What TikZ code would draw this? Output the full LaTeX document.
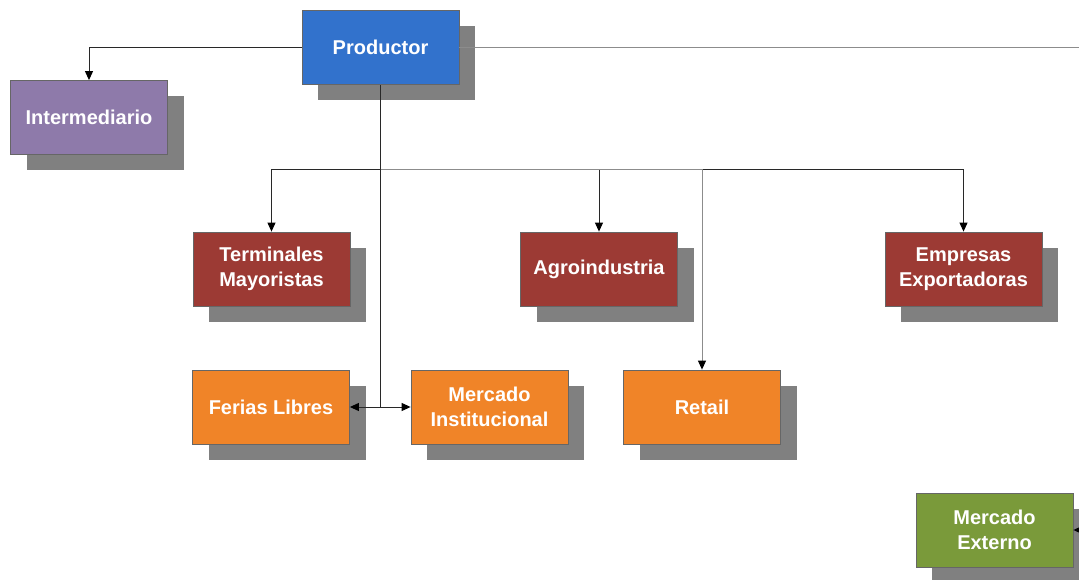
\documentclass[tikz,border=0pt]{standalone}
\usepackage{fontspec}
\setmainfont{Liberation Sans}
\usetikzlibrary{arrows.meta,shadows}
\definecolor{cblue}{RGB}{50,114,204}
\definecolor{cpurple}{RGB}{142,122,170}
\definecolor{cred}{RGB}{156,58,52}
\definecolor{corange}{RGB}{240,132,40}
\definecolor{cgreen}{RGB}{122,154,58}
\definecolor{cshadow}{RGB}{128,128,128}
\definecolor{cline}{RGB}{40,40,40}
\definecolor{cgrayline}{RGB}{140,140,140}
\tikzset{
  box/.style={draw=black!60, line width=0.8pt, minimum width=157pt, minimum height=74pt,
    align=center, text=white, font=\fontsize{20}{25}\selectfont\bfseries,
    general shadow={fill=cshadow, draw=none, shadow xshift=16pt, shadow yshift=-16pt}},
  conn/.style={draw=cline, line width=1pt},
  arr/.style={conn, -{Triangle[width=8pt,length=9pt,black]}},
  darr/.style={conn, {Triangle[width=8pt,length=9pt,black]}-{Triangle[width=8pt,length=9pt,black]}}
}
\begin{document}
\begin{tikzpicture}[x=1pt,y=-1pt]
\useasboundingbox (0,0) rectangle (1079,580);
\clip (0,0) rectangle (1079,580);
\node[box, fill=cblue] (prod) at (380.5,47.5) {Productor};
\node[box, fill=cpurple] (inter) at (89,117.5) {Intermediario};
\node[box, fill=cred] (term) at (271.5,269) {Terminales\\Mayoristas};
\node[box, fill=cred] (agro) at (599,269) {Agroindustria};
\node[box, fill=cred] (emp) at (963.5,269) {Empresas\\Exportadoras};
\node[box, fill=corange] (ferias) at (271,407) {Ferias Libres};
\node[box, fill=corange] (minst) at (489.5,407) {Mercado\\Institucional};
\node[box, fill=corange] (retail) at (702,407) {Retail};
\node[box, fill=cgreen] (mext) at (994.5,530) {Mercado\\Externo};
\coordinate (bus) at (380.5,170);
\coordinate (fork) at (380.5,407);
\coordinate (rightend) at (1090,47.5);
\coordinate (extin) at (1090,530);
\draw[arr] (prod.west) -| (inter.north);
\draw[conn, draw=cgrayline] (prod.east) -- (rightend);
\draw[conn] (prod.south) -- (fork);
\draw[arr] (bus) -| (term.north);
\draw[arr] (bus) -| (agro.north);
\draw[arr] (bus) -| (emp.north);
\draw[arr, draw=cgrayline] (bus) -| (retail.north);
\draw[darr] (ferias.east) -- (minst.west);
\draw[arr] (extin) -- (mext.east);
\end{tikzpicture}
\end{document}
